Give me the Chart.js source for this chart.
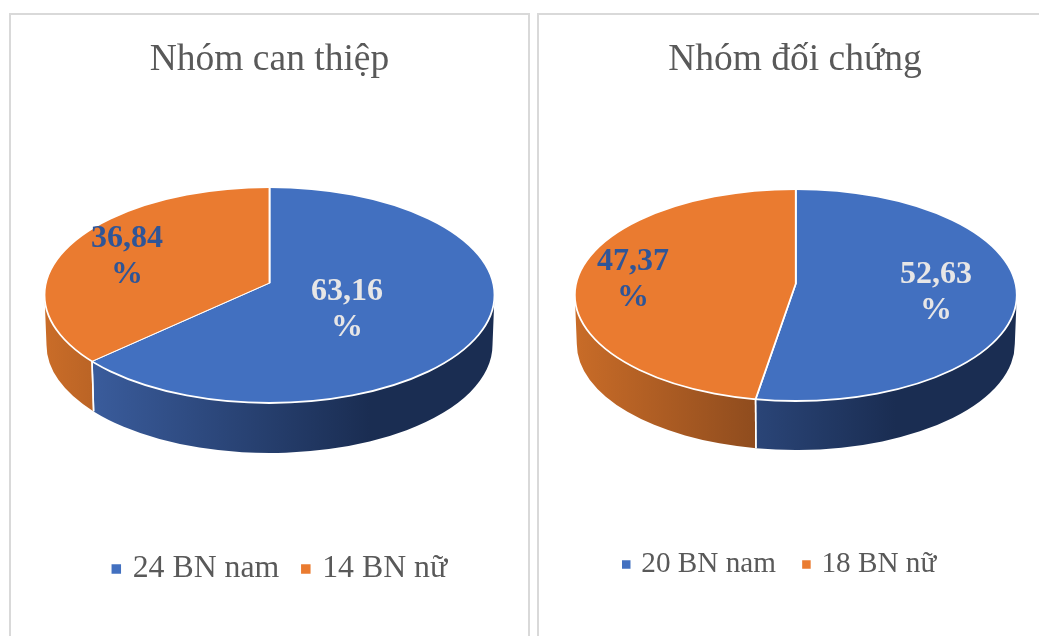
<!DOCTYPE html>
<html>
<head>
<meta charset="utf-8">
<script src="https://cdn.jsdelivr.net/npm/chart.js@4/dist/chart.umd.min.js"></script>
<style>
  html, body { margin: 0; padding: 0; background: #fff; overflow: hidden; width: 1039px; height: 636px; }
  .panel { position: absolute; top: 13px; height: 640px; border: 2px solid #d9d9d9; box-sizing: border-box; }
  canvas { position: absolute; top: 15px; }
</style>
</head>
<body>
<div class="panel" style="left:9px;width:521px"></div>
<div class="panel" style="left:537px;width:540px"></div>
<canvas id="pie_can" style="left:11px"></canvas>
<canvas id="pie_doi" style="left:539px"></canvas>
<script>
const title_can = "Nhóm can thiệp";
const labels_can = ["24 BN nam", "14 BN nữ"];
const values_can = [63.16, 36.84];

const title_doi = "Nhóm đối chứng";
const labels_doi = ["20 BN nam", "18 BN nữ"];
const values_doi = [52.63, 47.37];

const colors = ["#4270c0", "#ea7b30"];
const text_color = "#595959";
const label_colors = ["#e7e6e6", "#2f5597"];
const serif = "'Liberation Serif', serif";

// wall gradients, stops relative to the pie center
const wall_stops = [
  [[-178, "#3a5c9c"], [100, "#1a2d52"]],
  [[-222, "#c96c28"], [-40, "#8f4c1e"]]
];

// where a slice edge leaving the apex hits the top rim
function rim_angle(geo, theta) {
  let py = (geo.apex_y - geo.cy) / geo.ry;
  let dx = Math.cos(theta), dy = Math.sin(theta);
  let pd = py * dy;
  let s = -pd + Math.sqrt(pd * pd - (py * py - 1));
  return Math.atan2(py + s * dy, s * dx);
}

function norm_angle(t) {
  while (t < -Math.PI / 2) t += Math.PI * 2;
  while (t >= Math.PI * 1.5) t -= Math.PI * 2;
  return t;
}

// the side of the pie, one piece per slice, only the front half shows
function draw_walls(chart, geo) {
  let ctx = chart.ctx;
  let arcs = chart.getDatasetMeta(0).data;
  let edges = [];
  arcs.forEach(function(arc, i) {
    let a = norm_angle(rim_angle(geo, arc.startAngle));
    let b = norm_angle(rim_angle(geo, arc.endAngle));
    if (b <= a) b += Math.PI * 2;
    let from = Math.max(a, 0), to = Math.min(b, Math.PI);
    if (to <= from) return;
    let grad = ctx.createLinearGradient(geo.cx + wall_stops[i][0][0], 0, geo.cx + wall_stops[i][1][0], 0);
    grad.addColorStop(0, wall_stops[i][0][1]);
    grad.addColorStop(1, wall_stops[i][1][1]);
    ctx.beginPath();
    ctx.ellipse(geo.cx, geo.cy, geo.rx, geo.ry, 0, from, to);
    ctx.ellipse(geo.cx, geo.cy + geo.depth, geo.rx - 2, geo.ry, 0, to, from, true);
    ctx.closePath();
    ctx.fillStyle = grad;
    ctx.fill();
    if (a > 0 && a < Math.PI) edges.push(a);
    if (b > 0 && b < Math.PI) edges.push(b);
  });
  ctx.strokeStyle = "#fff";
  ctx.lineWidth = 1.5;
  for (let t of edges) {
    ctx.beginPath();
    ctx.moveTo(geo.cx + geo.rx * Math.cos(t), geo.cy + geo.ry * Math.sin(t));
    ctx.lineTo(geo.cx + (geo.rx - 2) * Math.cos(t), geo.cy + geo.depth + geo.ry * Math.sin(t));
    ctx.stroke();
  }
}

function make_pie(id, width, title, labels, values, geo) {
  const canvas = document.getElementById(id);
  canvas.width = width;
  canvas.height = 621;
  canvas.style.width = width + "px";
  canvas.style.height = "621px";

  // squash the flat pie into the tilted one
  const tilt = {
    id: "tilt",
    afterLayout(chart) {
      chart.legend.left += geo.legend_dx;
      chart.legend.right += geo.legend_dx;
    },
    beforeDatasetsDraw(chart) {
      let ctx = chart.ctx;
      let meta = chart.getDatasetMeta(0);
      let arc = meta.data[0];
      draw_walls(chart, geo);
      ctx.save();
      ctx.beginPath();
      ctx.ellipse(geo.cx, geo.cy, geo.rx, geo.ry, 0, 0, Math.PI * 2);
      ctx.clip();
      ctx.translate(geo.cx, geo.apex_y);
      ctx.scale(geo.rx * 1.2 / arc.outerRadius, geo.ry * 1.2 / arc.outerRadius);
      ctx.translate(-arc.x, -arc.y);
    },
    afterDatasetsDraw(chart) {
      let ctx = chart.ctx;
      ctx.restore();
      ctx.beginPath();
      ctx.ellipse(geo.cx, geo.cy, geo.rx, geo.ry, 0, 0, Math.PI * 2);
      ctx.strokeStyle = "#fff";
      ctx.lineWidth = 1.8;
      ctx.stroke();
      // data labels, wrapped like the original
      ctx.font = "bold 32px " + serif;
      ctx.textAlign = "center";
      ctx.textBaseline = "middle";
      values.forEach(function(v, i) {
        let at = geo.label_at[i];
        ctx.fillStyle = label_colors[i];
        ctx.fillText(v.toFixed(2).replace(".", ","), at[0], at[1]);
        ctx.fillText("%", at[0], at[1] + 36);
      });
    }
  };

  return new Chart(canvas.getContext("2d"), {
    type: "pie",
    data: {
      labels: labels,
      datasets: [{
        data: values,
        backgroundColor: colors,
        borderColor: "#fff",
        borderWidth: 1.5
      }]
    },
    options: {
      responsive: false,
      animation: false,
      events: [],
      layout: { padding: { left: geo.pad_left, bottom: geo.pad_bottom } },
      plugins: {
        tooltip: { enabled: false },
        title: {
          display: true,
          text: title,
          color: text_color,
          font: { family: serif, size: 37.5, weight: "normal" },
          padding: { top: 23, bottom: 10 }
        },
        legend: {
          position: "bottom",
          labels: {
            color: text_color,
            font: { family: serif, size: geo.legend_size },
            usePointStyle: true,
            pointStyle: "rect",
            boxWidth: 1,
            boxHeight: geo.legend_box,
            padding: geo.legend_gap
          }
        }
      }
    },
    plugins: [tilt]
  });
}

make_pie("pie_can", 517, title_can, labels_can, values_can, {
  cx: 258.5, cy: 280, rx: 225, ry: 108, apex_y: 268, depth: 50,
  legend_dx: 12, legend_size: 31.8, legend_box: 11, legend_gap: 26, pad_left: 0, pad_bottom: 41,
  label_at: [[336, 277], [116, 224]]
});

make_pie("pie_doi", 500, title_doi, labels_doi, values_doi, {
  cx: 256.8, cy: 280, rx: 221, ry: 106, apex_y: 268.5, depth: 49,
  legend_dx: -14, legend_size: 29.2, legend_box: 10, legend_gap: 30, pad_left: 12, pad_bottom: 47,
  label_at: [[397, 260], [94, 247]]
});
</script>
</body>
</html>
